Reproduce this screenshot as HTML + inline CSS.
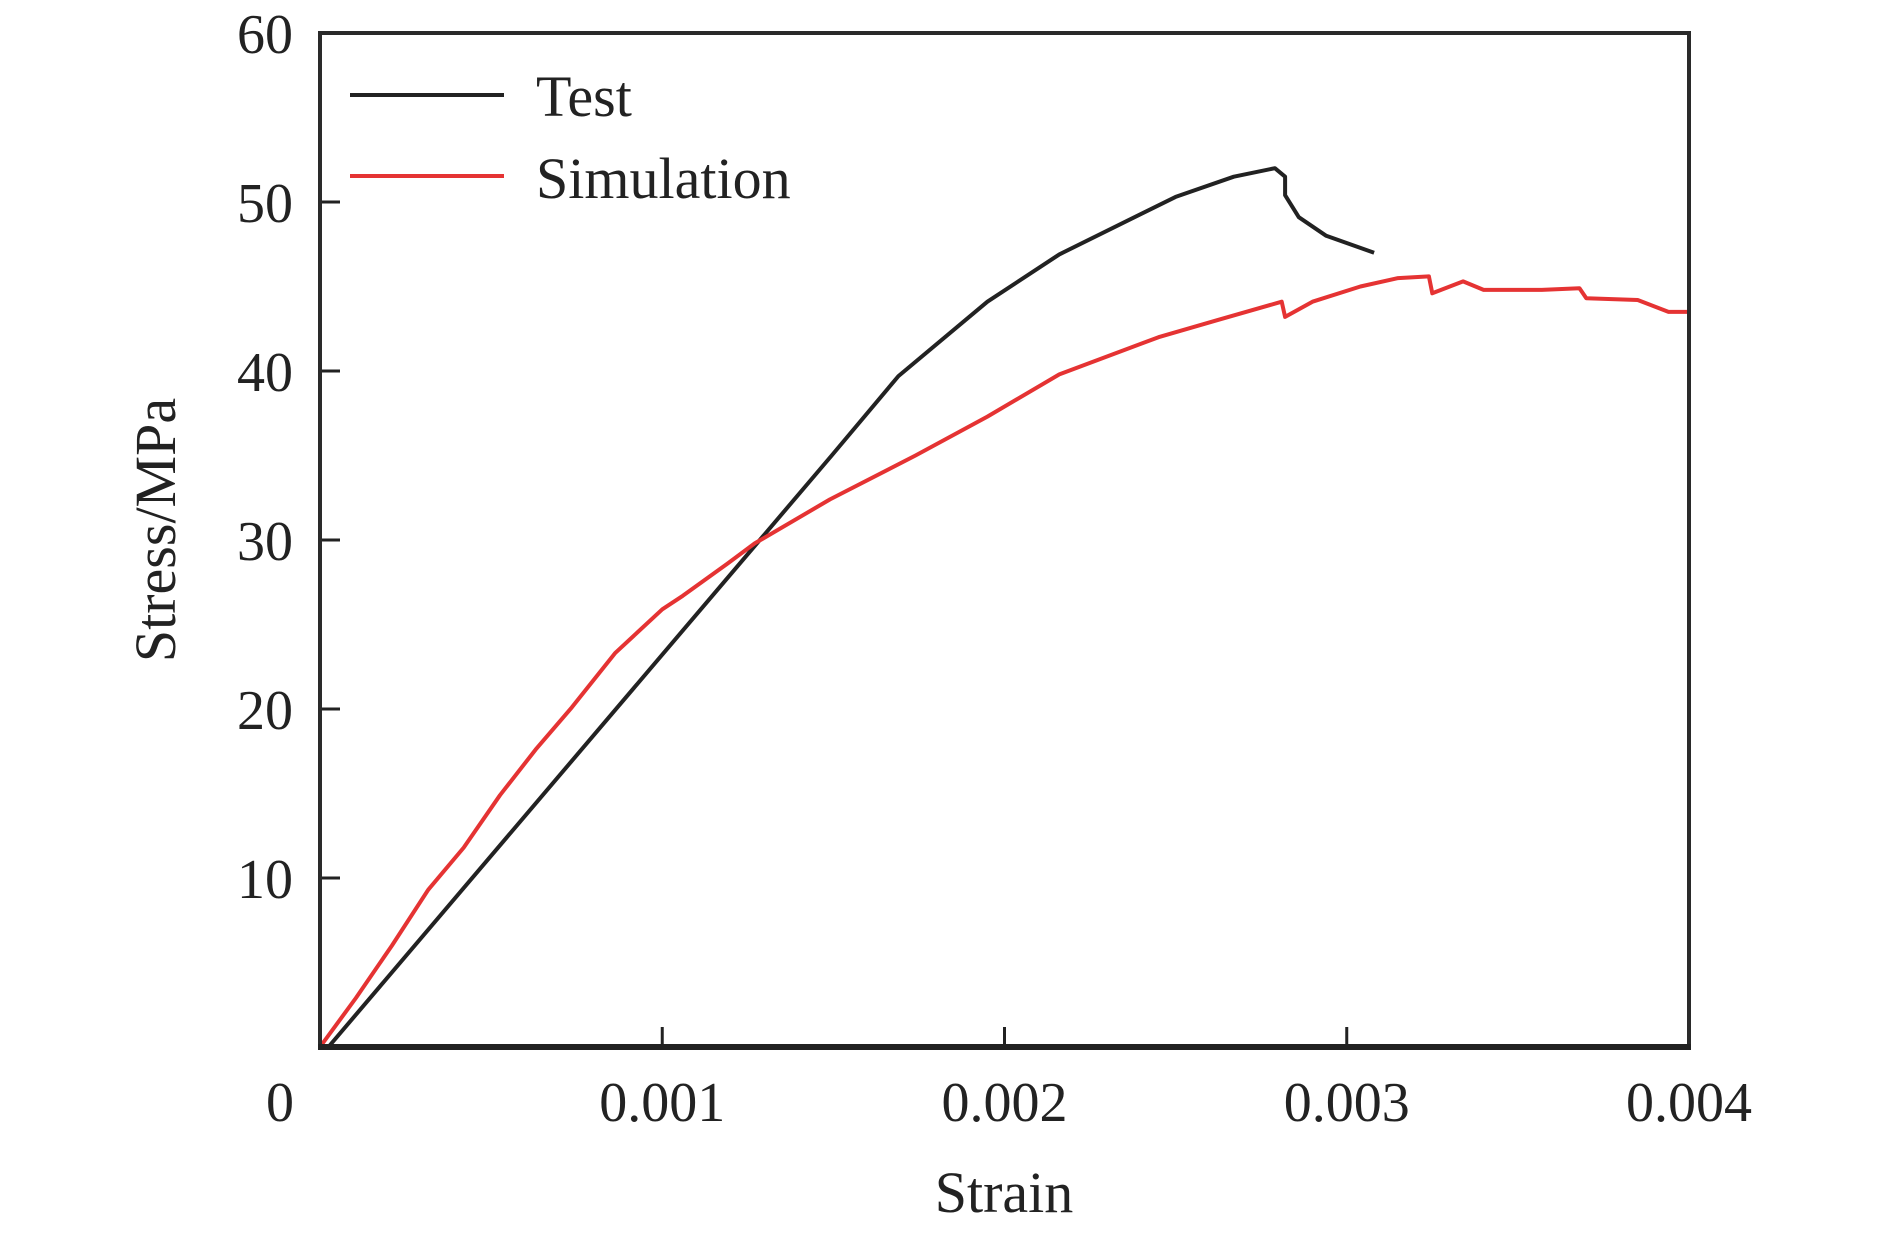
<!DOCTYPE html>
<html><head><meta charset="utf-8">
<style>
html,body{margin:0;padding:0;background:#fff;}
svg text{font-family:"Liberation Serif",serif;fill:#222;}
</style></head>
<body>
<svg id="chart" width="1890" height="1234" viewBox="0 0 1890 1234" xmlns="http://www.w3.org/2000/svg">
<g id="axes"></g>
<g id="series"></g>
<rect x="320" y="33" width="1369" height="1015" fill="none" stroke="#2a2a2a" stroke-width="4"/>
<line x1="318" y1="1047" x2="1691" y2="1047" stroke="#222" stroke-width="6"/>
<text x="1004" y="1212" font-size="58" text-anchor="middle">Strain</text>
<text transform="translate(175,530) rotate(-90)" font-size="58" text-anchor="middle">Stress/MPa</text>
<g>
<line x1="350" y1="95" x2="504" y2="95" stroke="#222" stroke-width="4"/>
<text x="536" y="116" font-size="58">Test</text>
<line x1="350" y1="176" x2="504" y2="176" stroke="#e53333" stroke-width="4"/>
<text x="536" y="198" font-size="58">Simulation</text>
</g>
</svg>
<script>
const xTicks=[0.001,0.002,0.003];
const xTickLabels=["0","0.001","0.002","0.003","0.004"];
const xLabelValues=[0,0.001,0.002,0.003,0.004];
const yTicks=[10,20,30,40,50,60];
const yTickLabels=["10","20","30","40","50","60"];
const testStrain=[0.0000246,0.001495,0.00169,0.00195,0.00216,0.0025,0.00267,0.00279,0.00282,0.00282,0.00286,0.00294,0.00308];
const testStress=[0,35.0,39.7,44.1,46.9,50.3,51.5,52.0,51.5,50.4,49.1,48.0,47.0];
const simStrain=[0,0.000105,0.00021,0.000316,0.00042,0.000526,0.00063,0.000736,0.000862,0.001,0.00106,0.00119,0.00127,0.00149,0.00174,0.00195,0.00216,0.00245,0.00262,0.00281,0.00282,0.0029,0.00304,0.00315,0.00324,0.00325,0.00334,0.0034,0.00357,0.00368,0.0037,0.00385,0.00394,0.004];
const simStress=[0,2.9,6.0,9.3,11.8,14.9,17.6,20.1,23.3,25.9,26.7,28.6,29.8,32.4,35.0,37.3,39.8,42.0,43.0,44.1,43.2,44.1,45.0,45.5,45.6,44.6,45.3,44.8,44.8,44.9,44.3,44.2,43.5,43.5];

const NS="http://www.w3.org/2000/svg";
const X0=320,X1=1689,Y0=1047,Y1=33;
const xs=v=>X0+(v/0.004)*(X1-X0);
const ys=v=>Y0-(v/60)*(Y0-Y1);
const axes=document.getElementById('axes');
const ser=document.getElementById('series');
function mk(tag,attrs,parent){const e=document.createElementNS(NS,tag);for(const k in attrs)e.setAttribute(k,attrs[k]);parent.appendChild(e);return e;}
xTicks.forEach(v=>{
  const l=mk('line',{x1:xs(v),x2:xs(v),y1:Y0,y2:Y0-20,stroke:'#222','stroke-width':3},axes);
  
  
});
xTickLabels.forEach((t,i)=>{
  const x=i===0?280:xs(xLabelValues[i]);
  const e=mk('text',{x:x,y:1121,'font-size':56,'text-anchor':'middle'},axes);
  e.textContent=t;
  
  
});
yTicks.forEach((v,i)=>{
  if(v<60){
    const l=mk('line',{x1:X0,x2:X0+20,y1:ys(v),y2:ys(v),stroke:'#222','stroke-width':3},axes);
    
    
  }
  const e=mk('text',{x:293,y:ys(v)+20,'font-size':56,'text-anchor':'end'},axes);
  e.textContent=yTickLabels[i];
  
  
});
function path(xa,ya,color,name){
  const d=xa.map((x,i)=>(i?'L':'M')+xs(x).toFixed(1)+','+ys(ya[i]).toFixed(1)).join(' ');
  const p=mk('path',{d:d,fill:'none',stroke:color,'stroke-width':4,'stroke-linejoin':'round'},ser);
  
  
}
path(testStrain,testStress,'#222','test-line');
path(simStrain,simStress,'#e53333','simulation-line');
</script>
</body></html>
